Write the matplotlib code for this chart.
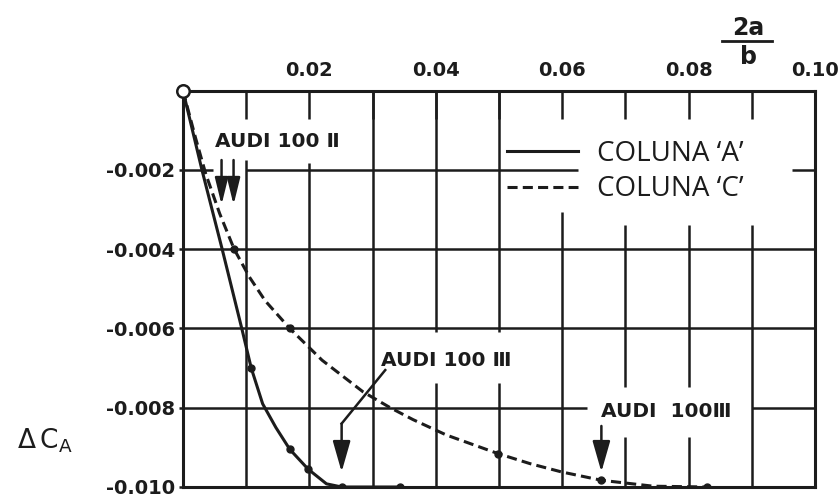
import matplotlib
matplotlib.use("Agg")
import matplotlib.pyplot as plt
from matplotlib.lines import Line2D

plt.rcParams["mathtext.fontset"] = "dejavusans"

# ---- data -------------------------------------------------------------
# Coluna 'A' (solid)
col_a_x = [0.0, 0.0030, 0.0062, 0.0093, 0.0108, 0.0126, 0.0147, 0.0169, 0.0198, 0.0227, 0.0251, 0.0343]
col_a_y = [0.0, -0.0020, -0.0040, -0.0060, -0.0070, -0.0079, -0.0085, -0.00905, -0.00955, -0.00992, -0.0100, -0.0100]
col_a_dots_x = [0.0108, 0.0169, 0.0198, 0.0251, 0.0343]
col_a_dots_y = [-0.0070, -0.00905, -0.00955, -0.0100, -0.0100]

# Coluna 'C' (dashed)
col_c_x = [0.0, 0.0020, 0.0036, 0.0058, 0.0081, 0.0105, 0.0130, 0.0169, 0.0220, 0.0285, 0.0328,
           0.0364, 0.0417, 0.0499, 0.0549, 0.0599, 0.0662, 0.0744, 0.0829]
col_c_y = [0.0, -0.0012, -0.0021, -0.0031, -0.0040, -0.0047, -0.0053, -0.0060, -0.0068, -0.0076, -0.0080,
           -0.0083, -0.00869, -0.00916, -0.00941, -0.00962, -0.00983, -0.00998, -0.0100]
col_c_dots_x = [0.0081, 0.0169, 0.0499, 0.0662, 0.0829]
col_c_dots_y = [-0.0040, -0.0060, -0.00916, -0.00983, -0.0100]

x_ticks = [0.02, 0.04, 0.06, 0.08, 0.10]
x_tick_labels = ["0.02", "0.04", "0.06", "0.08", "0.10"]
y_ticks = [-0.002, -0.004, -0.006, -0.008, -0.010]
y_tick_labels = ["-0.002", "-0.004", "-0.006", "-0.008", "-0.010"]

INK = "#1c1c1c"
BOLD = dict(family="DejaVu Sans", fontweight="bold", color=INK)

fig = plt.figure(figsize=(8.39, 4.99), dpi=100)
fig.patch.set_facecolor("white")
ax = fig.add_axes([183 / 839, 12 / 499, 632 / 839, 396.3 / 499])
ax.set_xlim(0, 0.10)
ax.set_ylim(-0.010, 0)

for s in ax.spines.values():
    s.set_linewidth(2.2)
    s.set_color(INK)

# axis ticks: values along the top, inward marks every 0.01
ax.xaxis.tick_top()
ax.set_xticks(x_ticks)
ax.set_xticklabels(x_tick_labels)
ax.set_xticks([0.01, 0.03, 0.05, 0.07, 0.09], minor=True)
ax.tick_params(axis="x", which="both", direction="in", length=20, width=1.8,
               color=INK, pad=8, top=True, bottom=False)
ax.set_yticks(y_ticks)
ax.set_yticklabels(y_tick_labels)
ax.tick_params(axis="y", direction="out", length=3, width=1.8, color=INK, pad=3)
for lab in ax.get_xticklabels() + ax.get_yticklabels():
    lab.set_fontfamily("DejaVu Sans")
    lab.set_fontweight("bold")
    lab.set_fontsize(14)
    lab.set_color(INK)

# grid, interrupted around the labels and the key
gl = dict(color=INK, lw=1.8, zorder=1)
v_grid = [
    (0.01, -0.00175, -0.010),
    (0.02, -0.00182, -0.010),
    (0.03, 0.0, -0.010),
    (0.04, 0.0, -0.00608), (0.04, -0.00738, -0.010),
    (0.05, 0.0, -0.00608), (0.05, -0.00738, -0.010),
    (0.06, -0.00306, -0.010),
    (0.07, -0.00339, -0.00747), (0.07, -0.00873, -0.010),
    (0.08, -0.00339, -0.00747), (0.08, -0.00873, -0.010),
    (0.09, -0.00339, -0.010),
]
for x, y0, y1 in v_grid:
    ax.vlines(x, y1, y0, **gl)
h_grid = [
    (-0.002, 0.0, 0.0048), (-0.002, 0.0100, 0.0625), (-0.002, 0.0963, 0.10),
    (-0.004, 0.0, 0.10),
    (-0.006, 0.0, 0.10),
    (-0.008, 0.0, 0.0639), (-0.008, 0.0900, 0.10),
]
for y, x0, x1 in h_grid:
    ax.hlines(y, x0, x1, **gl)

# curves
ax.plot(col_a_x, col_a_y, color=INK, lw=2.2, zorder=3, label="COLUNA \u2018A\u2019",
        solid_joinstyle="round")
ax.plot(col_c_x, col_c_y, color=INK, lw=2.2, zorder=3, linestyle=(0, (3.3, 1.7)),
        label="COLUNA \u2018C\u2019")
ax.plot(col_a_dots_x, col_a_dots_y, "o", color=INK, ms=5, zorder=4)
ax.plot(col_c_dots_x, col_c_dots_y, "o", color=INK, ms=5, zorder=4)
ax.plot([0], [0], "o", ms=9, mfc="white", mec=INK, mew=1.8, zorder=6, clip_on=False)

leg = ax.legend(loc="center left", bbox_to_anchor=(0.5127, 0.7960), frameon=False,
                borderpad=0, borderaxespad=0, handlelength=2.55, handletextpad=0.68,
                labelspacing=0.28, prop={"family": "Open Sans", "size": 20})
for t in leg.get_texts():
    t.set_color(INK)

# car annotations
ax.text(0.0051, -0.00128, "AUDI 100 \u2161", fontsize=14.5, va="center", ha="left", **BOLD)
ax.text(0.0313, -0.00682, "AUDI 100 \u2162", fontsize=14.5, va="center", ha="left", **BOLD)
ax.text(0.0661, -0.0081, "AUDI  100\u2162", fontsize=14.5, va="center", ha="left", **BOLD)

small_arrow = dict(arrowstyle="-|>,head_length=0.9,head_width=0.22", color=INK, lw=1.8,
                   mutation_scale=18, shrinkA=0, shrinkB=0)
big_arrow = dict(arrowstyle="-|>,head_length=1.05,head_width=0.3", color=INK, lw=1.8,
                 mutation_scale=18, shrinkA=0, shrinkB=0)
for xa in (0.0061, 0.0080):
    ax.annotate("", xy=(xa, -0.00288), xytext=(xa, -0.00175), arrowprops=small_arrow, zorder=5)
ax.plot([0.0320, 0.0251], [-0.00705, -0.0084], color=INK, lw=1.8, zorder=5)
ax.annotate("", xy=(0.0251, -0.00962), xytext=(0.0251, -0.0084), arrowprops=big_arrow, zorder=5)
ax.annotate("", xy=(0.0662, -0.00962), xytext=(0.0662, -0.00846), arrowprops=big_arrow, zorder=5)

# axis titles
fig.text(748 / 839, 1 - 28 / 499, "2a", fontsize=17, ha="center", va="center", **BOLD)
fig.text(748 / 839, 1 - 57 / 499, "b", fontsize=17, ha="center", va="center", **BOLD)
fig.add_artist(Line2D([722 / 839, 772 / 839], [1 - 40.7 / 499, 1 - 40.7 / 499],
                      color=INK, lw=2.0, transform=fig.transFigure))
fig.text(17 / 839, 1 - 441 / 499, r"$\Delta\,\mathrm{C}_{\mathrm{A}}$", fontsize=19,
         ha="left", va="center", color=INK)

fig.savefig("out.png", dpi=100, facecolor="white")
